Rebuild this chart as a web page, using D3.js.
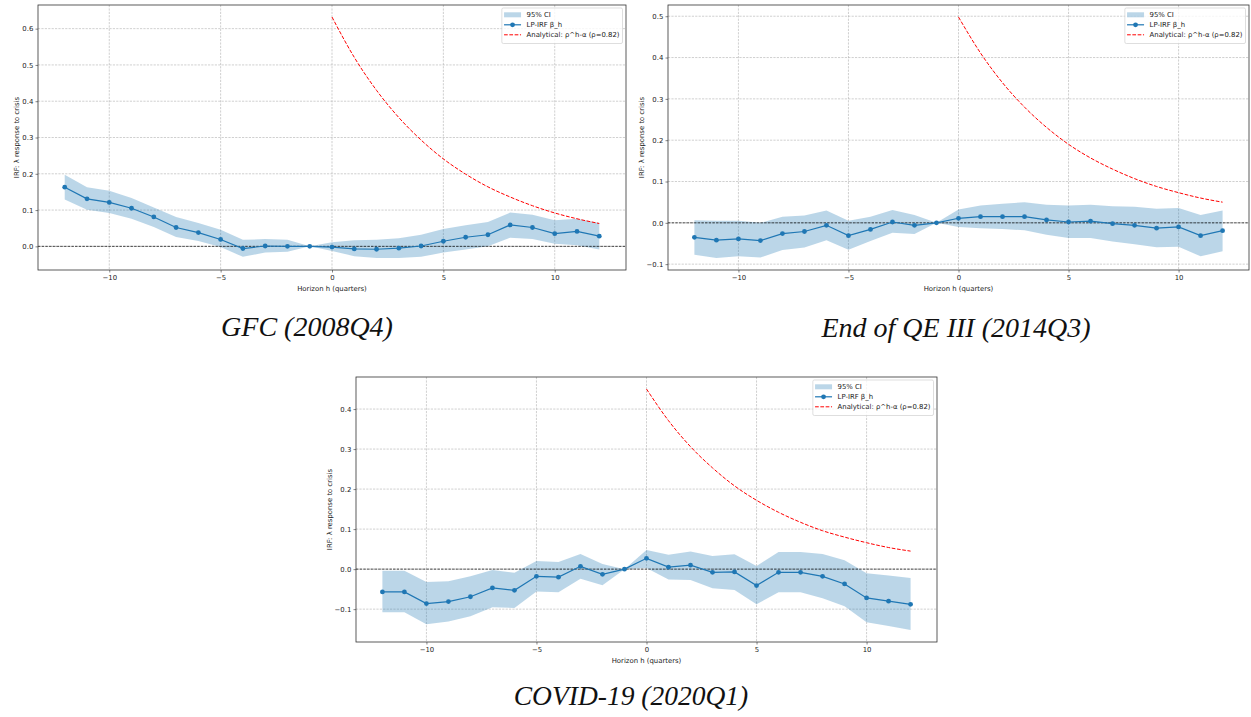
<!DOCTYPE html>
<html>
<head>
<meta charset="utf-8">
<script src="https://cdn.jsdelivr.net/npm/d3@7"></script>
<style>
  html, body { margin: 0; padding: 0; background: #fff; }
  svg { display: block; }
</style>
</head>
<body>
<svg id="chart" width="1251" height="717" font-family="DejaVu Sans, sans-serif"></svg>
<script>
// ---------------- DATA ----------------
const horizons = [-12,-11,-10,-9,-8,-7,-6,-5,-4,-3,-2,-1,0,1,2,3,4,5,6,7,8,9,10,11,12];
const analyticalHorizons = [0,1,2,3,4,5,6,7,8,9,10,11,12];
const xTicks = [-10,-5,0,5,10];

const gfcTitle = "GFC (2008Q4)";
const gfcBeta  = [0.163,0.131,0.121,0.105,0.081,0.052,0.038,0.019,-0.006,0.001,0.000,0.000,-0.002,-0.007,-0.008,-0.005,0.001,0.014,0.025,0.032,0.059,0.052,0.035,0.041,0.028];
const gfcLower = [0.129,0.101,0.092,0.076,0.053,0.026,0.015,-0.002,-0.029,-0.017,-0.015,0.000,-0.013,-0.027,-0.032,-0.032,-0.029,-0.017,-0.009,0.000,0.024,0.020,0.007,0.003,-0.009];
const gfcUpper = [0.197,0.163,0.153,0.133,0.107,0.081,0.064,0.046,0.018,0.020,0.018,0.000,0.011,0.017,0.018,0.022,0.032,0.048,0.058,0.067,0.093,0.087,0.072,0.076,0.064];
const gfcAnalytical = [0.632,0.521,0.430,0.355,0.293,0.241,0.199,0.164,0.136,0.112,0.092,0.076,0.063];
const gfcYTicks = [0.0,0.1,0.2,0.3,0.4,0.5,0.6];

const qeTitle = "End of QE III (2014Q3)";
const qeBeta  = [-0.035,-0.042,-0.039,-0.043,-0.026,-0.021,-0.006,-0.031,-0.016,0.002,-0.006,0.000,0.011,0.015,0.015,0.015,0.007,0.002,0.004,-0.002,-0.006,-0.013,-0.010,-0.031,-0.019];
const qeLower = [-0.077,-0.085,-0.081,-0.084,-0.066,-0.060,-0.042,-0.065,-0.044,-0.024,-0.027,0.000,-0.010,-0.013,-0.015,-0.018,-0.029,-0.037,-0.037,-0.045,-0.052,-0.059,-0.058,-0.081,-0.069];
const qeUpper = [0.006,0.005,0.005,0.000,0.015,0.018,0.030,0.005,0.015,0.031,0.019,0.000,0.032,0.042,0.046,0.050,0.044,0.042,0.044,0.040,0.039,0.034,0.036,0.019,0.030];
const qeAnalytical = [0.498,0.411,0.339,0.280,0.231,0.190,0.157,0.130,0.107,0.088,0.073,0.060,0.050];
const qeYTicks = [-0.1,0.0,0.1,0.2,0.3,0.4,0.5];

const covidTitle = "COVID-19 (2020Q1)";
const covidBeta  = [-0.057,-0.057,-0.086,-0.081,-0.069,-0.047,-0.053,-0.018,-0.020,0.007,-0.013,0.000,0.027,0.005,0.010,-0.008,-0.007,-0.041,-0.008,-0.008,-0.018,-0.037,-0.072,-0.080,-0.088];
const covidLower = [-0.108,-0.108,-0.138,-0.131,-0.118,-0.095,-0.097,-0.056,-0.058,-0.024,-0.040,0.000,0.003,-0.026,-0.027,-0.048,-0.052,-0.088,-0.058,-0.058,-0.073,-0.093,-0.133,-0.142,-0.152];
const covidUpper = [-0.004,-0.004,-0.032,-0.030,-0.018,-0.002,-0.009,0.020,0.018,0.038,0.013,0.000,0.048,0.036,0.044,0.033,0.037,0.008,0.043,0.043,0.038,0.022,-0.010,-0.016,-0.022];
const covidAnalytical = [0.450,0.371,0.306,0.253,0.208,0.172,0.142,0.117,0.096,0.080,0.066,0.054,0.045];
const covidYTicks = [-0.1,0.0,0.1,0.2,0.3,0.4];

const legendLabels = ["95% CI", "LP-IRF β_h", "Analytical: ρ^h-α (ρ=0.82)"];
const xLabel = "Horizon h (quarters)";
const yLabel = "IRF: λ response to crisis";

// ---------------- LAYOUT ----------------
const panels = [
  { title: gfcTitle, beta: gfcBeta, lower: gfcLower, upper: gfcUpper, ana: gfcAnalytical, yTicks: gfcYTicks,
    box: {l: 38, t: 5, r: 626, b: 270}, titleX: 307, titleY: 336, titleSize: 28 },
  { title: qeTitle, beta: qeBeta, lower: qeLower, upper: qeUpper, ana: qeAnalytical, yTicks: qeYTicks,
    box: {l: 668, t: 5, r: 1249, b: 270}, titleX: 956, titleY: 336.5, titleSize: 28 },
  { title: covidTitle, beta: covidBeta, lower: covidLower, upper: covidUpper, ana: covidAnalytical, yTicks: covidYTicks,
    box: {l: 356, t: 377, r: 937, b: 642}, titleX: 631, titleY: 705, titleSize: 27.5 }
];

const BLUE = "#1f77b4";
const FS = 6.9;
const svg = d3.select("#chart");
svg.append("rect").attr("width", 1251).attr("height", 717).attr("fill", "#fff");

function margins(lo, hi) { const m = (hi - lo) * 0.05; return [lo - m, hi + m]; }

panels.forEach(p => {
  const xExt = d3.extent(horizons);
  const allY = p.beta.concat(p.lower, p.upper, p.ana);
  const yExt = d3.extent(allY);
  const x = d3.scaleLinear().domain(margins(xExt[0], xExt[1])).range([p.box.l, p.box.r]);
  const y = d3.scaleLinear().domain(margins(yExt[0], yExt[1])).range([p.box.b, p.box.t]);
  const g = svg.append("g");

  const clipId = "clip" + p.box.l + "_" + p.box.t;
  svg.append("clipPath").attr("id", clipId).append("rect")
    .attr("x", p.box.l).attr("y", p.box.t).attr("width", p.box.r - p.box.l).attr("height", p.box.b - p.box.t);

  // grid
  const grid = g.append("g").attr("clip-path", `url(#${clipId})`);
  grid.selectAll("line.gx").data(xTicks).join("line")
    .attr("x1", d => x(d)).attr("x2", d => x(d)).attr("y1", p.box.t).attr("y2", p.box.b)
    .attr("stroke", "#b0b0b0").attr("stroke-width", 0.6).attr("stroke-dasharray", "2.2,1.2");
  grid.selectAll("line.gy").data(p.yTicks).join("line")
    .attr("y1", d => y(d)).attr("y2", d => y(d)).attr("x1", p.box.l).attr("x2", p.box.r)
    .attr("stroke", "#b0b0b0").attr("stroke-width", 0.6).attr("stroke-dasharray", "2.2,1.2");

  const plot = g.append("g").attr("clip-path", `url(#${clipId})`);
  // CI band
  const band = d3.area().x((d, i) => x(horizons[i])).y0((d, i) => y(p.lower[i])).y1((d, i) => y(p.upper[i]));
  plot.append("path").datum(p.lower).attr("d", band).attr("fill", BLUE).attr("fill-opacity", 0.3);

  // zero line
  plot.append("line").attr("x1", p.box.l).attr("x2", p.box.r).attr("y1", y(0)).attr("y2", y(0))
    .attr("stroke", "#000").attr("stroke-width", 0.7).attr("stroke-dasharray", "2.5,1.2");

  // analytical
  const anaLine = d3.line().x((d, i) => x(analyticalHorizons[i])).y(d => y(d)).curve(d3.curveMonotoneX);
  plot.append("path").datum(p.ana).attr("d", anaLine).attr("fill", "none")
    .attr("stroke", "#ff0000").attr("stroke-width", 1).attr("stroke-dasharray", "3.7,1.6");

  // beta line
  const bLine = d3.line().x((d, i) => x(horizons[i])).y(d => y(d));
  plot.append("path").datum(p.beta).attr("d", bLine).attr("fill", "none")
    .attr("stroke", BLUE).attr("stroke-width", 1.2);
  plot.selectAll("circle").data(p.beta).join("circle")
    .attr("cx", (d, i) => x(horizons[i])).attr("cy", d => y(d)).attr("r", 2.4).attr("fill", BLUE);

  // axes
  const xAxis = g.append("g").attr("transform", `translate(0,${p.box.b})`)
    .call(d3.axisBottom(x).tickValues(xTicks).tickFormat(d3.format("d")).tickSize(2.5).tickPadding(2.2).tickSizeOuter(0));
  const yAxis = g.append("g").attr("transform", `translate(${p.box.l},0)`)
    .call(d3.axisLeft(y).tickValues(p.yTicks).tickFormat(d3.format(".1f")).tickSize(2.5).tickPadding(2.2).tickSizeOuter(0));
  [xAxis, yAxis].forEach(a => {
    a.attr("font-family", "DejaVu Sans, sans-serif").attr("font-size", FS);
    a.select(".domain").remove();
    a.selectAll("line").attr("stroke", "#333").attr("stroke-width", 0.6);
    a.selectAll("text").attr("font-size", FS).attr("fill", "#222");
  });

  // frame
  g.append("rect").attr("x", p.box.l).attr("y", p.box.t).attr("width", p.box.r - p.box.l).attr("height", p.box.b - p.box.t)
    .attr("fill", "none").attr("stroke", "#333").attr("stroke-width", 0.8);

  // labels
  g.append("text").attr("x", (p.box.l + p.box.r) / 2).attr("y", p.box.b + 20.5)
    .attr("text-anchor", "middle").attr("font-size", FS).attr("fill", "#222").text(xLabel);
  const yb = yAxis.node().getBBox();
  const labelX = p.box.l + yb.x - 3;
  g.append("text").attr("transform", `translate(${labelX},${(p.box.t + p.box.b) / 2}) rotate(-90)`)
    .attr("text-anchor", "middle").attr("font-size", FS).attr("fill", "#222").text(yLabel);

  // legend
  const lg = g.append("g");
  const texts = lg.selectAll("text").data(legendLabels).join("text")
    .attr("font-size", FS).attr("fill", "#222").attr("dy", "0.35em").text(d => d);
  const maxW = d3.max(texts.nodes(), n => n.getComputedTextLength());
  const lw = 2.2 + 17 + 5.5 + maxW + 3;
  const lx = p.box.r - 3.5 - lw, ly = p.box.t + 3;
  lg.insert("rect", "text").attr("x", lx).attr("y", ly).attr("width", lw).attr("height", 35.5)
    .attr("rx", 1.5).attr("fill", "#fff").attr("fill-opacity", 0.8).attr("stroke", "#d0d0d0").attr("stroke-width", 0.7);
  const rows = [ly + 6.8, ly + 16.8, ly + 26.8];
  const hx0 = lx + 2.2, hx1 = hx0 + 17;
  texts.attr("x", hx1 + 5.5).attr("y", (d, i) => rows[i]);
  lg.append("rect").attr("x", hx0).attr("y", rows[0] - 2.5).attr("width", hx1 - hx0).attr("height", 5)
    .attr("fill", BLUE).attr("fill-opacity", 0.3);
  lg.append("line").attr("x1", hx0).attr("x2", hx1).attr("y1", rows[1]).attr("y2", rows[1])
    .attr("stroke", BLUE).attr("stroke-width", 1.2);
  lg.append("circle").attr("cx", (hx0 + hx1) / 2).attr("cy", rows[1]).attr("r", 2.4).attr("fill", BLUE);
  lg.append("line").attr("x1", hx0).attr("x2", hx1).attr("y1", rows[2]).attr("y2", rows[2])
    .attr("stroke", "#ff0000").attr("stroke-width", 1).attr("stroke-dasharray", "3.7,1.6");

  // title
  svg.append("text").attr("x", p.titleX).attr("y", p.titleY).attr("text-anchor", "middle")
    .attr("font-family", "Liberation Serif, serif").attr("font-style", "italic")
    .attr("font-size", p.titleSize).attr("fill", "#111").text(p.title);
});
</script>
</body>
</html>
